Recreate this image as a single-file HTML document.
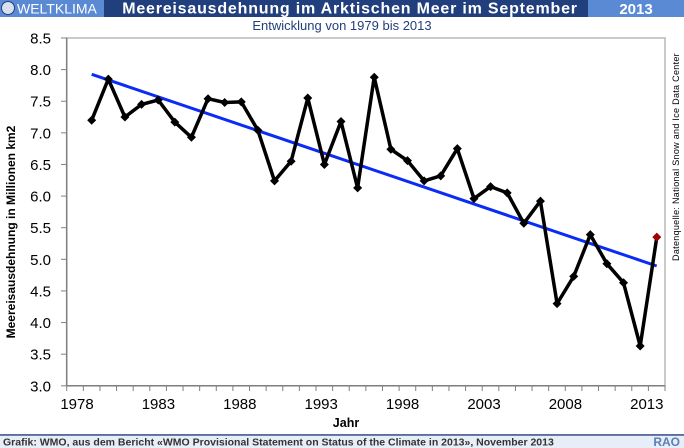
<!DOCTYPE html>
<html><head><meta charset="utf-8"><style>
html,body{margin:0;padding:0;background:#fff}
svg{display:block}
text{font-family:"Liberation Sans",Arial,sans-serif}
</style></head><body>
<svg width="684" height="448" viewBox="0 0 684 448" xmlns="http://www.w3.org/2000/svg">
<rect x="0" y="0" width="684" height="17" fill="#213f7c"/>
<rect x="0" y="0" width="104" height="17" fill="#5a8ad4"/>
<rect x="588" y="0" width="96" height="17" fill="#5a8ad4"/>
<circle cx="8" cy="8" r="6.5" fill="#d8dff0" stroke="#213f7c" stroke-width="1"/>
<text x="17" y="13.5" font-size="14" fill="#fff">WELTKLIMA</text>
<text x="350" y="13.5" font-size="16" font-weight="bold" fill="#fff" text-anchor="middle" letter-spacing="0.8">Meereisausdehnung im Arktischen Meer im September</text>
<text x="636" y="14" font-size="15" font-weight="bold" fill="#fff" text-anchor="middle">2013</text>
<text x="342" y="30" font-size="13" fill="#213f7c" text-anchor="middle">Entwicklung von 1979 bis 2013</text>
<rect x="66.7" y="38" width="598.3" height="347.8" fill="none" stroke="#b8b8b8" stroke-width="1.5"/>
<line x1="66.7" y1="38" x2="66.7" y2="385.8" stroke="#808080" stroke-width="1.5"/>
<line x1="66.7" y1="385.8" x2="665" y2="385.8" stroke="#808080" stroke-width="1.5"/>
<g id="yt" font-size="15" fill="#000" text-anchor="end"></g>
<g id="xt" font-size="15" fill="#000" text-anchor="middle"></g>
<g id="ticks" stroke="#808080" stroke-width="1"></g>
<text x="346" y="427" font-size="12.5" font-weight="bold" text-anchor="middle">Jahr</text>
<text transform="translate(15,232) rotate(-90)" font-size="12" font-weight="bold" text-anchor="middle">Meereisausdehnung in Millionen km2</text>
<text transform="translate(679,157) rotate(-90)" font-size="9" text-anchor="middle" letter-spacing="0.3">Datenquelle: National Snow and Ice Data Center</text>
<line x1="91.7" y1="74.3" x2="656.7" y2="266" stroke="#0a2cf5" stroke-width="3"/>
<polyline id="series" fill="none" stroke="#000" stroke-width="3.5" stroke-linejoin="round"/>
<g id="marks"></g>
<line x1="0" y1="435" x2="684" y2="435" stroke="#213f7c" stroke-width="1.5"/>
<rect x="0" y="435.8" width="684" height="12.2" fill="#e8eef8"/>
<text x="3" y="445.5" font-size="10.5" font-weight="bold" fill="#333">Grafik: WMO, aus dem Bericht «WMO Provisional Statement on Status of the Climate in 2013», November 2013</text>
<text x="680" y="446" font-size="12" font-weight="bold" fill="#5a7fb5" text-anchor="end">RAO</text>
</svg>
<script>
var ns="http://www.w3.org/2000/svg";
function Y(v){return 385.8-(v-3)*63.24;}
function X(yr){return 91.7+(yr-1979)*16.62;}
var yt=document.getElementById('yt'),tk=document.getElementById('ticks'),xt=document.getElementById('xt');
for(var v=3;v<=8.51;v+=0.5){var t=document.createElementNS(ns,'text');t.setAttribute('x',51);t.setAttribute('y',Y(v)+5.5);t.textContent=v.toFixed(1);yt.appendChild(t);
var l=document.createElementNS(ns,'line');l.setAttribute('x1',61);l.setAttribute('x2',66.7);l.setAttribute('y1',Y(v));l.setAttribute('y2',Y(v));tk.appendChild(l);}
for(var i=0;i<=36;i++){var x=66.7+i*16.62;var l=document.createElementNS(ns,'line');l.setAttribute('x1',x);l.setAttribute('x2',x);l.setAttribute('y1',385.8);l.setAttribute('y2',391);tk.appendChild(l);}
for(var i=0;i<8;i++){var t=document.createElementNS(ns,'text');t.setAttribute('x',77+i*81.4);t.setAttribute('y',409);t.textContent=1978+5*i;xt.appendChild(t);}
var d=[7.20,7.85,7.25,7.45,7.52,7.17,6.93,7.54,7.48,7.49,7.04,6.24,6.55,7.55,6.50,7.18,6.13,7.88,6.74,6.56,6.24,6.32,6.75,5.96,6.15,6.05,5.57,5.92,4.30,4.73,5.39,4.93,4.63,3.63,5.35];
var pts=[],mk=document.getElementById('marks');
d.forEach(function(v,i){var x=X(1979+i),y=Y(v);pts.push(x.toFixed(1)+','+y.toFixed(1));
var p=document.createElementNS(ns,'polygon');p.setAttribute('points',(x)+','+(y-4.5)+' '+(x+4.5)+','+y+' '+x+','+(y+4.5)+' '+(x-4.5)+','+y);p.setAttribute('fill',i==d.length-1?'#a00000':'#000');mk.appendChild(p);});
document.getElementById('series').setAttribute('points',pts.join(' '));
</script>
</body></html>
